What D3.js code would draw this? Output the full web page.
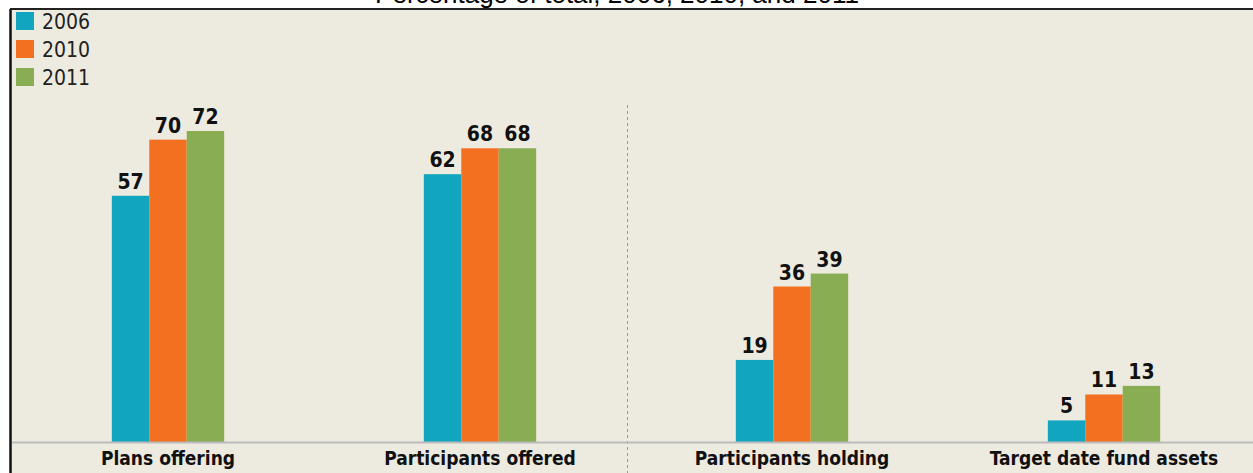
<!DOCTYPE html>
<html>
<head>
<meta charset="utf-8">
<title>Target date funds</title>
<script src="https://cdn.jsdelivr.net/npm/d3@7"></script>
<style>
  body { margin: 0; background: #fff; }
  svg text { font-family: "DejaVu Sans Condensed", "DejaVu Sans", sans-serif; }
</style>
</head>
<body>
<script>
var categories = ["Plans offering", "Participants offered", "Participants holding", "Target date fund assets"];
var years = ["2006", "2010", "2011"];
var v2006 = [57, 62, 19, 5];
var v2010 = [70, 68, 36, 11];
var v2011 = [72, 68, 39, 13];
var colors = ["#12a5bf", "#f37021", "#88ad52"];

var width = 1253, height = 473, baseY = 442;

var series = [v2006, v2010, v2011];
var data = categories.map(function(c, i) {
    return { cat: c, vals: years.map(function(y, j) { return { year: y, v: series[j][i] }; }) };
});

var svg = d3.select("body").append("svg")
    .attr("width", width).attr("height", height);

// panel
svg.append("rect").attr("x", 10).attr("y", 9).attr("width", width - 10).attr("height", height - 9)
    .attr("fill", "#edeae0");
svg.append("line").attr("x1", 10.5).attr("x2", 10.5).attr("y1", 9).attr("y2", height)
    .attr("stroke", "#111").attr("stroke-width", 2.5);

// title, cut off by the top of the picture as in the source
svg.append("text").attr("x", 617).attr("y", 3)
    .attr("text-anchor", "middle").attr("font-size", 26)
    .style("font-family", "Liberation Sans, Arial, sans-serif")
    .text("Percentage of total, 2006, 2010, and 2011");
svg.append("rect").attr("x", 10).attr("y", 8).attr("width", width).attr("height", 2).attr("fill", "#222");

var x0 = d3.scaleBand().domain(categories).range([12, 1260]).paddingInner(0.64).paddingOuter(0.32);
var x1 = d3.scaleBand().domain(years).range([0, x0.bandwidth()]);
var y = d3.scaleLinear().domain([0, 72]).range([baseY, 131]);

// divider
svg.append("line").attr("x1", 627.5).attr("x2", 627.5).attr("y1", 105).attr("y2", height)
    .attr("stroke", "#999").attr("stroke-dasharray", "3,3").attr("stroke-width", 1);

var g = svg.selectAll("g.grp").data(data).enter().append("g")
    .attr("class", "grp")
    .attr("transform", function(d) { return "translate(" + x0(d.cat) + ",0)"; });

g.selectAll("rect").data(function(d) { return d.vals; }).enter().append("rect")
    .attr("x", function(d) { return x1(d.year); })
    .attr("y", function(d) { return y(d.v); })
    .attr("width", x1.bandwidth())
    .attr("height", function(d) { return baseY - y(d.v); })
    .attr("fill", function(d, i) { return colors[i]; });

g.selectAll("text.val").data(function(d) { return d.vals; }).enter().append("text")
    .attr("class", "val")
    .attr("x", function(d) { return x1(d.year) + x1.bandwidth() / 2; })
    .attr("y", function(d) { return y(d.v) - 7; })
    .attr("text-anchor", "middle")
    .attr("font-size", 21).attr("font-weight", "bold").attr("fill", "#111")
    .text(function(d) { return d.v; });

// axis
var xAxis = d3.axisBottom(x0).tickSize(0).tickPadding(10);
var ax = svg.append("g").attr("transform", "translate(0," + baseY + ")").call(xAxis);
ax.select(".domain").remove();
svg.append("line").attr("x1", 12).attr("x2", width).attr("y1", baseY + 0.5).attr("y2", baseY + 0.5)
    .attr("stroke", "#bbb").attr("stroke-width", 2);
ax.selectAll("text")
    .attr("font-size", 19).attr("font-weight", "bold").attr("fill", "#111")
    .style("font-family", "DejaVu Sans Condensed, sans-serif");

// legend
var leg = svg.selectAll("g.leg").data(years).enter().append("g")
    .attr("class", "leg")
    .attr("transform", function(d, i) { return "translate(16," + (12 + i * 28) + ")"; });
leg.append("rect").attr("width", 18).attr("height", 18)
    .attr("fill", function(d, i) { return colors[i]; });
leg.append("text").attr("x", 26).attr("y", 17)
    .attr("font-size", 21).attr("fill", "#222")
    .text(function(d) { return d; });
</script>
</body>
</html>
